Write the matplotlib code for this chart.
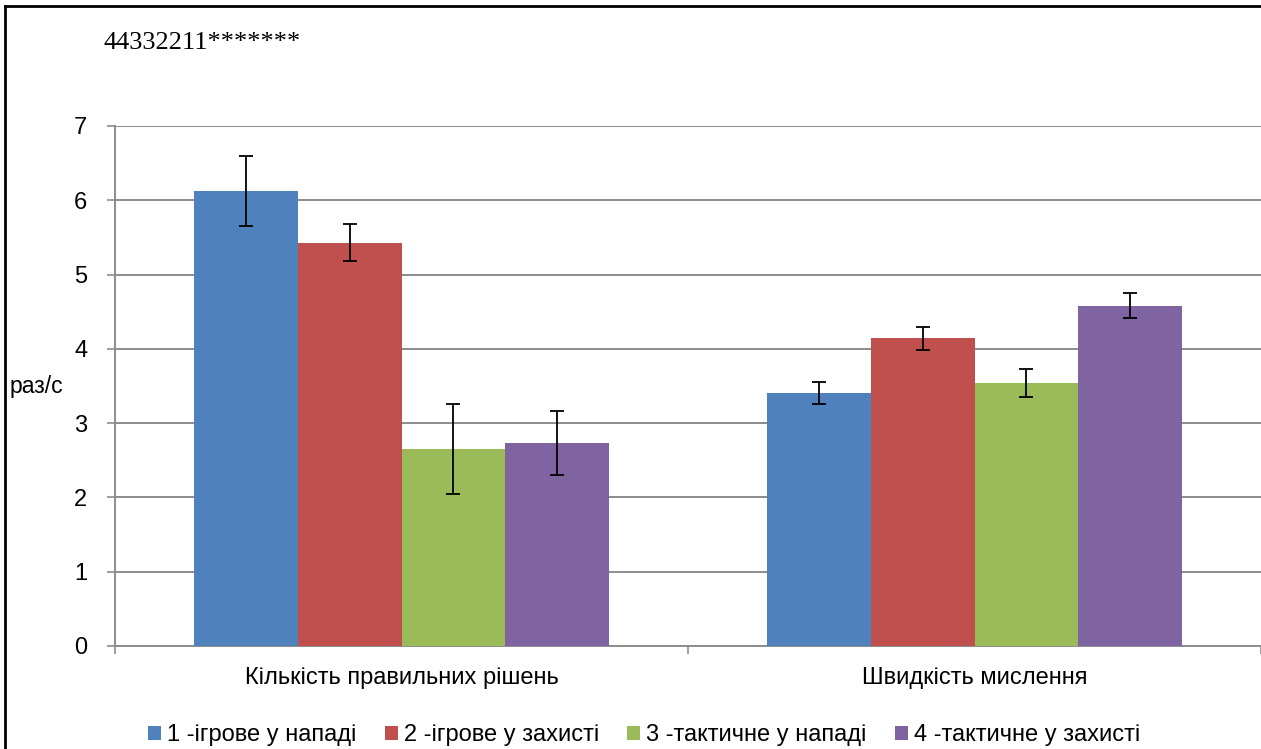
import numpy as np
import matplotlib.pyplot as plt
from matplotlib.lines import Line2D

plt.rcParams['font.family'] = ['Liberation Sans', 'DejaVu Sans']

categories = ['Кількість правильних рішень', 'Швидкість мислення']
series = ['1 -ігрове у нападі', '2 -ігрове у захисті',
          '3 -тактичне у нападі', '4 -тактичне у захисті']
values = [[6.13, 3.41],
          [5.43, 4.14],
          [2.65, 3.54],
          [2.73, 4.58]]
errors = [[0.47, 0.15],
          [0.25, 0.15],
          [0.61, 0.19],
          [0.43, 0.17]]
colors = ['#4F81BD', '#C0504D', '#9BBB59', '#8064A2']

fig = plt.figure(figsize=(12.61, 7.49), dpi=100)
ax = fig.add_axes([115 / 1261, 1 - 646 / 749, 1 - 115 / 1261, (646 - 126) / 749])

x = np.arange(len(categories))
w = 0.181
for i, name in enumerate(series):
    ax.bar(x + (i - 1.5) * w, values[i], w, color=colors[i], label=name,
           yerr=errors[i], capsize=5,
           error_kw=dict(ecolor='black', elinewidth=1.3, capthick=1.3),
           zorder=3)

ax.set_xlim(-0.5, 1.5)
ax.set_ylim(0, 7)
ax.set_yticks(range(8))
ax.yaxis.grid(True, color='#8c8c8c', lw=1.4, zorder=0)
ax.tick_params(axis='y', labelsize=17, length=6, width=1.2, color='#8c8c8c', pad=14)
ax.set_xticks(x)
ax.set_xticklabels(categories)
ax.tick_params(axis='x', which='major', length=0, labelsize=17, pad=15)
ax.set_xticks([-0.5, 0.5, 1.5], minor=True)
ax.tick_params(axis='x', which='minor', length=6, width=1.2, color='#8c8c8c')
for s in ['top', 'right']:
    ax.spines[s].set_visible(False)
for s in ['left', 'bottom']:
    ax.spines[s].set_color('#8c8c8c')
    ax.spines[s].set_linewidth(1.4)

fig.text(10 / 1261, 1 - 387 / 749, 'раз/с', fontsize=16.5, va='center', ha='left')
fig.text(103 / 1261, 1 - 43 / 749, '44332211*******', fontsize=19,
         family='Liberation Serif', va='center', ha='left')

# frame of the original image
fig.add_artist(Line2D([5 / 1261, 1], [1 - 6 / 749] * 2, color='black', lw=2))
fig.add_artist(Line2D([5 / 1261] * 2, [0, 1 - 6 / 749], color='black', lw=2))

fig.legend(loc='center', bbox_to_anchor=(644 / 1261, 1 - 735 / 749), ncol=4,
           frameon=False, fontsize=17, handlelength=0.55, handleheight=0.55,
           handletextpad=0.25, columnspacing=1.2)

fig.savefig('out.png', dpi=100)
